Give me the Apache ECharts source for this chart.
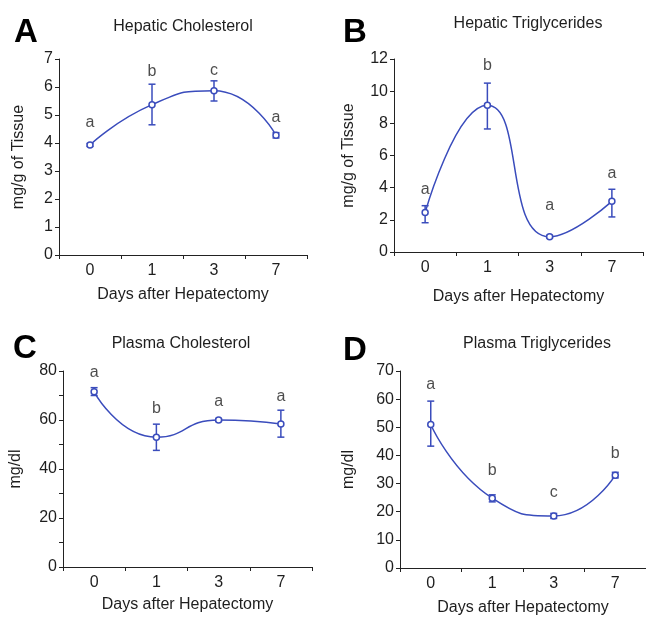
<!DOCTYPE html>
<html>
<head>
<meta charset="utf-8">
<script src="https://cdn.jsdelivr.net/npm/echarts@6/dist/echarts.min.js"></script>
<style>
  html, body { margin: 0; padding: 0; background: #ffffff; }
  #chart { width: 646px; height: 618px; }
</style>
</head>
<body>
<div id="chart"></div>
<script>
// categories shared by every panel
const days = ['0', '1', '3', '7'];

// A - Hepatic Cholesterol (mg/g of tissue)
const hcMean = [3.93, 5.37, 5.87, 4.28];
const hcLow = [3.88, 4.65, 5.5, 4.18];
const hcHigh = [3.98, 6.1, 6.22, 4.37];
const hcLetters = ['a', 'b', 'c', 'a'];
const hcLetterY = [4.72, 6.55, 6.6, 4.9];

// B - Hepatic Triglycerides (mg/g of tissue)
const htMean = [2.45, 9.12, 0.95, 3.15];
const htLow = [1.82, 7.65, 0.88, 2.18];
const htHigh = [2.88, 10.5, 1.03, 3.9];
const htLetters = ['a', 'b', 'a', 'a'];
const htLetterY = [3.9, 11.6, 2.9, 4.9];

// C - Plasma Cholesterol (mg/dl)
const pcMean = [71.5, 53.0, 60.0, 58.4];
const pcLow = [70.0, 47.6, 59.4, 53.0];
const pcHigh = [73.2, 58.3, 60.6, 64.0];
const pcLetters = ['a', 'b', 'a', 'a'];
const pcLetterY = [79.5, 64.5, 67.5, 69.6];

// D - Plasma Triglycerides (mg/dl)
const ptMean = [51.0, 24.8, 18.5, 33.0];
const ptLow = [43.3, 23.5, 17.6, 32.0];
const ptHigh = [59.3, 26.0, 19.4, 34.0];
const ptLetters = ['a', 'b', 'c', 'b'];
const ptLetterY = [65.2, 34.6, 26.7, 40.7];

const blue = '#3a4cbc';
const ink = '#1e1e1e';
const font = 'Liberation Sans, Arial, sans-serif';

const panels = [
  { mean: hcMean, low: hcLow, high: hcHigh, letters: hcLetters, letterY: hcLetterY,
    max: 7, interval: 1, minor: false, yName: 'mg/g of Tissue', yGap: 32, xGap: 32,
    grid: { left: 59, top: 59, width: 248, height: 196 } },
  { mean: htMean, low: htLow, high: htHigh, letters: htLetters, letterY: htLetterY,
    max: 12, interval: 2, minor: false, yName: 'mg/g of Tissue', yGap: 37, xGap: 37,
    grid: { left: 394, top: 59, width: 249, height: 193 } },
  { mean: pcMean, low: pcLow, high: pcHigh, letters: pcLetters, letterY: pcLetterY,
    max: 80, interval: 20, minor: true, yName: 'mg/dl', yGap: 39, xGap: 30,
    grid: { left: 63, top: 371, width: 249, height: 196 } },
  { mean: ptMean, low: ptLow, high: ptHigh, letters: ptLetters, letterY: ptLetterY,
    max: 70, interval: 10, minor: false, yName: 'mg/dl', yGap: 43, xGap: 32,
    grid: { left: 400, top: 371, width: 246, height: 197 } }
];

const letterStyle = { fontSize: 33, fontWeight: 900, color: '#000', fontFamily: font };
const titleStyle = { fontSize: 16, fontWeight: 'normal', color: ink, fontFamily: font };
const titles = [
  { text: 'A', left: 9, top: 11, textStyle: letterStyle },
  { text: 'Hepatic Cholesterol', left: 178, top: 14, textAlign: 'center', textStyle: titleStyle },
  { text: 'B', left: 338, top: 11, textStyle: letterStyle },
  { text: 'Hepatic Triglycerides', left: 523, top: 11, textAlign: 'center', textStyle: titleStyle },
  { text: 'C', left: 8, top: 327, textStyle: letterStyle },
  { text: 'Plasma Cholesterol', left: 176, top: 331, textAlign: 'center', textStyle: titleStyle },
  { text: 'D', left: 338, top: 329, textStyle: letterStyle },
  { text: 'Plasma Triglycerides', left: 532, top: 331, textAlign: 'center', textStyle: titleStyle }
];

const grids = [], xAxes = [], yAxes = [], series = [];

panels.forEach((p, i) => {
  grids.push(p.grid);
  xAxes.push({
    type: 'category', gridIndex: i, data: days, boundaryGap: true,
    name: 'Days after Hepatectomy', nameLocation: 'middle', nameGap: p.xGap,
    nameTextStyle: { fontSize: 16, color: ink, fontFamily: font },
    axisLine: { lineStyle: { color: '#222', width: 1 } },
    axisTick: { show: true, length: 4, lineStyle: { color: '#222' } },
    axisLabel: { fontSize: 16, color: ink, fontFamily: font, margin: 8 },
    splitLine: { show: false }
  });
  yAxes.push({
    type: 'value', gridIndex: i, min: 0, max: p.max, interval: p.interval,
    name: p.yName, nameLocation: 'middle', nameGap: p.yGap,
    nameTextStyle: { fontSize: 16, color: ink, fontFamily: font },
    axisLine: { show: true, lineStyle: { color: '#222', width: 1 } },
    axisTick: { show: true, length: 4, lineStyle: { color: '#222' } },
    minorTick: { show: p.minor, splitNumber: 2, length: 4, lineStyle: { color: '#222' } },
    axisLabel: { fontSize: 16, color: ink, fontFamily: font, margin: 6 },
    splitLine: { show: false }
  });

  // error bars
  series.push({
    type: 'custom', xAxisIndex: i, yAxisIndex: i, z: 1,
    data: p.low.map((lo, k) => [k, lo, p.high[k]]),
    renderItem: (params, api) => {
      const lo = api.coord([api.value(0), api.value(1)]);
      const hi = api.coord([api.value(0), api.value(2)]);
      const cap = 3.5;
      const style = { stroke: blue, lineWidth: 1.5 };
      return {
        type: 'group',
        children: [
          { type: 'line', shape: { x1: lo[0], y1: lo[1], x2: hi[0], y2: hi[1] }, style },
          { type: 'line', shape: { x1: lo[0] - cap, y1: lo[1], x2: lo[0] + cap, y2: lo[1] }, style },
          { type: 'line', shape: { x1: hi[0] - cap, y1: hi[1], x2: hi[0] + cap, y2: hi[1] }, style }
        ]
      };
    }
  });

  // mean curve
  series.push({
    type: 'line', xAxisIndex: i, yAxisIndex: i, z: 3,
    data: p.mean, smooth: 0.55,
    symbol: 'circle', symbolSize: 6,
    lineStyle: { color: blue, width: 1.5 },
    itemStyle: { color: '#fff', borderColor: blue, borderWidth: 1.5 }
  });

  // significance letters
  series.push({
    type: 'scatter', xAxisIndex: i, yAxisIndex: i, z: 4,
    data: p.letterY, symbolSize: 0, silent: true,
    label: {
      show: true, position: 'inside', fontSize: 16, color: ink, fontFamily: font,
      formatter: (d) => p.letters[d.dataIndex]
    }
  });
});

const chart = echarts.init(document.getElementById('chart'));
chart.setOption({
  animation: false,
  backgroundColor: '#ffffff',
  title: titles,
  grid: grids,
  xAxis: xAxes,
  yAxis: yAxes,
  series: series
});
</script>
</body>
</html>
